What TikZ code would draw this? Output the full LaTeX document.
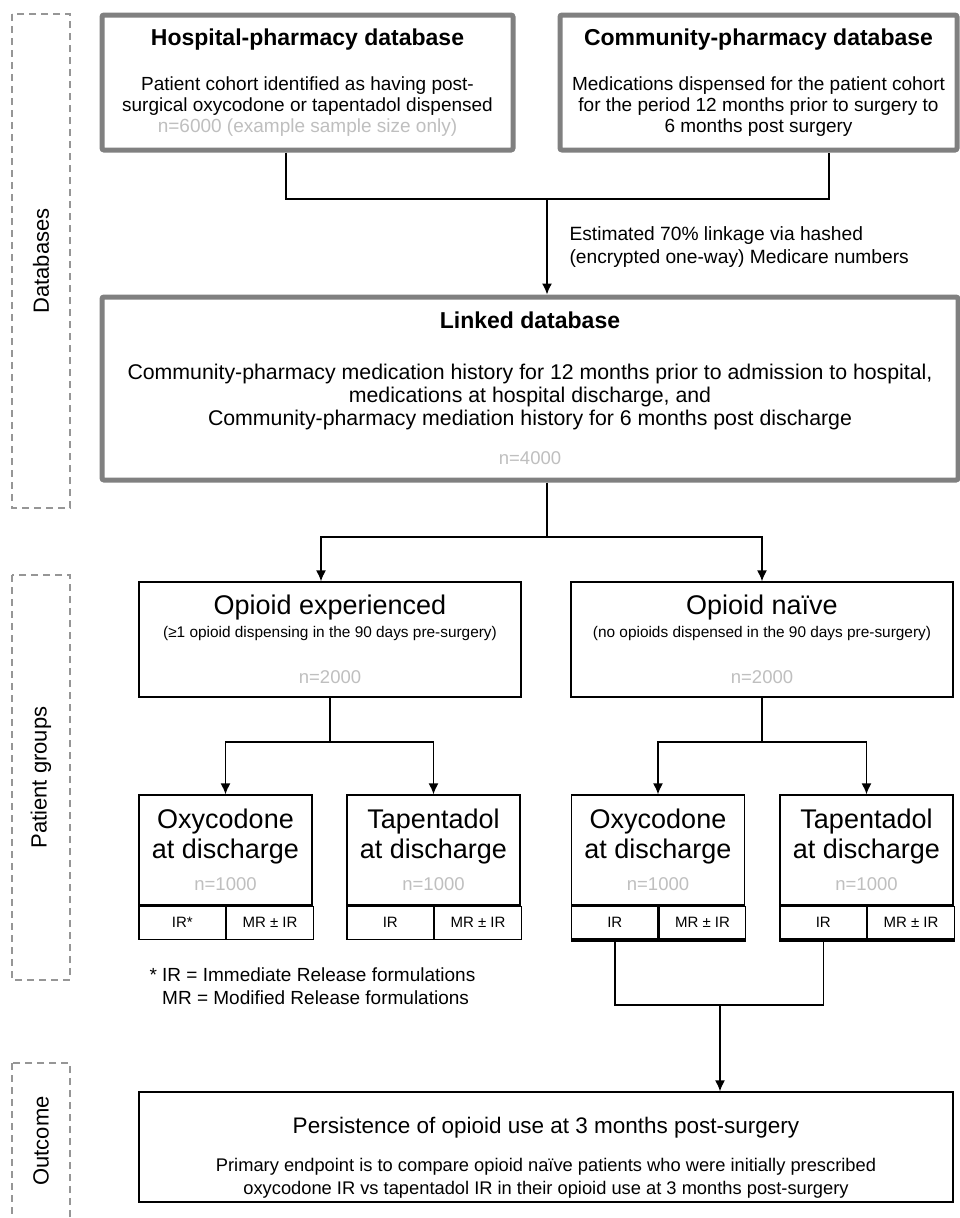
\documentclass[tikz,border=0pt]{standalone}
\usepackage{fontspec}
\setmainfont{Liberation Sans}
\usetikzlibrary{arrows,arrows.meta,positioning,calc}

\definecolor{framegrey}{RGB}{128,128,128}
\definecolor{ngrey}{RGB}{191,191,191}
\definecolor{sidegrey}{RGB}{150,150,150}

\newcommand{\hdrfont}{\fontsize{23}{26}\selectfont\bfseries}
\newcommand{\ttlfont}{\fontsize{27}{30}\selectfont}
\newcommand{\nfont}{\fontsize{18.5}{21}\selectfont\color{ngrey}}
\lineskiplimit=-100pt

\tikzset{
  dbbox/.style={draw=framegrey, line width=5pt, rounded corners=2pt, fill=white, align=center, inner sep=0pt},
  grpbox/.style={draw, line width=1.3pt, fill=white, align=center, inner sep=0pt},
  drugbox/.style={grpbox, minimum width=173pt, minimum height=110pt, font=\fontsize{27}{30}\selectfont},
  cellbox/.style={draw, line width=1.3pt, inner sep=0pt, minimum width=86.5pt, minimum height=33pt, anchor=north west, font=\fontsize{15}{16}\selectfont},
  sidebox/.style={draw=sidegrey, line width=1.5pt, dash pattern=on 7pt off 5pt, rotate=90, inner sep=0pt, minimum height=58pt, font=\fontsize{22}{24}\selectfont},
  conn/.style={line width=1.5pt},
  arr/.style={line width=1.5pt, -{Latex[length=11pt,width=10pt]}},
}

\begin{document}
\begin{tikzpicture}[x=1pt,y=-1pt]
    \useasboundingbox[fill=white] (0,0) rectangle (960,1218);

    % stage labels on the left
    \node[sidebox, minimum width=494pt] (dbside) at (41,261) {Databases};
    \node[sidebox, minimum width=405pt] (grpside) at (41,777.5) {Patient groups};
    \node[sidebox, minimum width=156pt] (outside) at (41,1141) {Outcome};

    % source databases
    \node[dbbox, minimum width=411pt, minimum height=135pt, font=\fontsize{19}{21}\selectfont] (hosp) at (307.5,82.5)
        {{\hdrfont Hospital-pharmacy database}\\[23.6pt]
         Patient cohort identified as having post-\\
         surgical oxycodone or tapentadol dispensed\\[0pt]
         {\color{ngrey}n=6000 (example sample size only)}};
    \node[dbbox, minimum width=397pt, minimum height=135pt, font=\fontsize{19}{21}\selectfont] (comm) at (758.5,82.5)
        {{\hdrfont Community-pharmacy database}\\[23.6pt]
         Medications dispensed for the patient cohort\\
         for the period 12 months prior to surgery to\\
         6 months post surgery};

    \coordinate (dbjoin) at (547,199);
    \draw[conn] ([xshift=-21.5pt]hosp.south) |- (dbjoin) -| ([xshift=70.5pt]comm.south);
    \node[anchor=west, align=left, font=\fontsize{19.2}{23}\selectfont] (linklbl) at (566,247)
        {Estimated 70\% linkage via hashed\\(encrypted one-way) Medicare numbers};

    % linked database
    \node[dbbox, minimum width=856pt, minimum height=183pt, font=\fontsize{21.3}{23}\selectfont] (linked) at (530,388.5)
        {{\hdrfont Linked database}\\[27.6pt]
         Community-pharmacy medication history for 12 months prior to admission to hospital,\\
         medications at hospital discharge, and\\
         Community-pharmacy mediation history for 6 months post discharge\\[16pt]
         {\nfont n=4000}};
    \draw[arr] (dbjoin) -- (dbjoin |- linked.north);

    % patient groups
    \node[grpbox, minimum width=382pt, minimum height=115pt, font=\fontsize{15.4}{20}\selectfont] (exp) at (330,639.5)
        {{\ttlfont Opioid experienced}\\[3pt]
         (≥1 opioid dispensing in the 90 days pre-surgery)\\[26.5pt]
         {\nfont n=2000}};
    \node[grpbox, minimum width=382pt, minimum height=115pt, font=\fontsize{15.4}{20}\selectfont] (naive) at (762,639.5)
        {{\ttlfont Opioid naïve}\\[3pt]
         (no opioids dispensed in the 90 days pre-surgery)\\[26.5pt]
         {\nfont n=2000}};

    \coordinate (grpjoin) at (547,537);
    \draw[conn] ([xshift=17pt]linked.south) -- (grpjoin);
    \draw[arr] (grpjoin) -| ([xshift=-9pt]exp.north);
    \draw[arr] (grpjoin) -| (naive.north);

    % drugs at discharge
    \node[drugbox] (oxyexp) at (225.5,850) {Oxycodone\\at discharge\\[2.5pt]{\nfont n=1000}};
    \node[cellbox] (oxyexpir) at (oxyexp.south west) {IR*};
    \node[cellbox] (oxyexpmr) at (oxyexpir.north east) {MR ± IR};

    \node[drugbox] (tapexp) at (433.5,850) {Tapentadol\\at discharge\\[2.5pt]{\nfont n=1000}};
    \node[cellbox] (tapexpir) at (tapexp.south west) {IR};
    \node[cellbox] (tapexpmr) at (tapexpir.north east) {MR ± IR};

    \node[drugbox] (oxynaive) at (658,850) {Oxycodone\\at discharge\\[2.5pt]{\nfont n=1000}};
    \node[cellbox] (oxynaiveir) at (oxynaive.south west) {IR};
    \node[cellbox] (oxynaivemr) at (oxynaiveir.north east) {MR ± IR};

    \node[drugbox] (tapnaive) at (866.5,850) {Tapentadol\\at discharge\\[2.5pt]{\nfont n=1000}};
    \node[cellbox] (tapnaiveir) at (tapnaive.south west) {IR};
    \node[cellbox] (tapnaivemr) at (tapnaiveir.north east) {MR ± IR};

    \draw[line width=4pt] (oxynaiveir.south west) -- (oxynaivemr.south east);
    \draw[line width=4pt] (tapnaiveir.south west) -- (tapnaivemr.south east);

    \coordinate (expjoin) at (330,742);
    \draw[conn] (exp.south) -- (expjoin);
    \draw[arr] (expjoin) -| (oxyexp.north);
    \draw[arr] (expjoin) -| (tapexp.north);

    \coordinate (naivejoin) at (762,742);
    \draw[conn] (naive.south) -- (naivejoin);
    \draw[arr] (naivejoin) -| (oxynaive.north);
    \draw[arr] (naivejoin) -| (tapnaive.north);

    \node[anchor=west, align=left, font=\fontsize{19}{23}\selectfont] (fnote) at (146,986)
        {* IR = Immediate Release formulations\\\hphantom{* }MR = Modified Release formulations};

    % outcome
    \node[grpbox, minimum width=814pt, minimum height=110pt, font=\fontsize{18.3}{23}\selectfont] (outc) at (546,1147)
        {{\fontsize{22.5}{26}\selectfont\rule{0pt}{38pt}Persistence of opioid use at 3 months post-surgery}\\[14.5pt]
         Primary endpoint is to compare opioid naïve patients who were initially prescribed\\
         oxycodone IR vs tapentadol IR in their opioid use at 3 months post-surgery};

    \coordinate (outjoin) at (720,1005);
    \draw[conn] (oxynaiveir.south) |- (outjoin) -| (tapnaiveir.south);
    \draw[arr] (outjoin) -- (outjoin |- outc.north);
\end{tikzpicture}
\end{document}
